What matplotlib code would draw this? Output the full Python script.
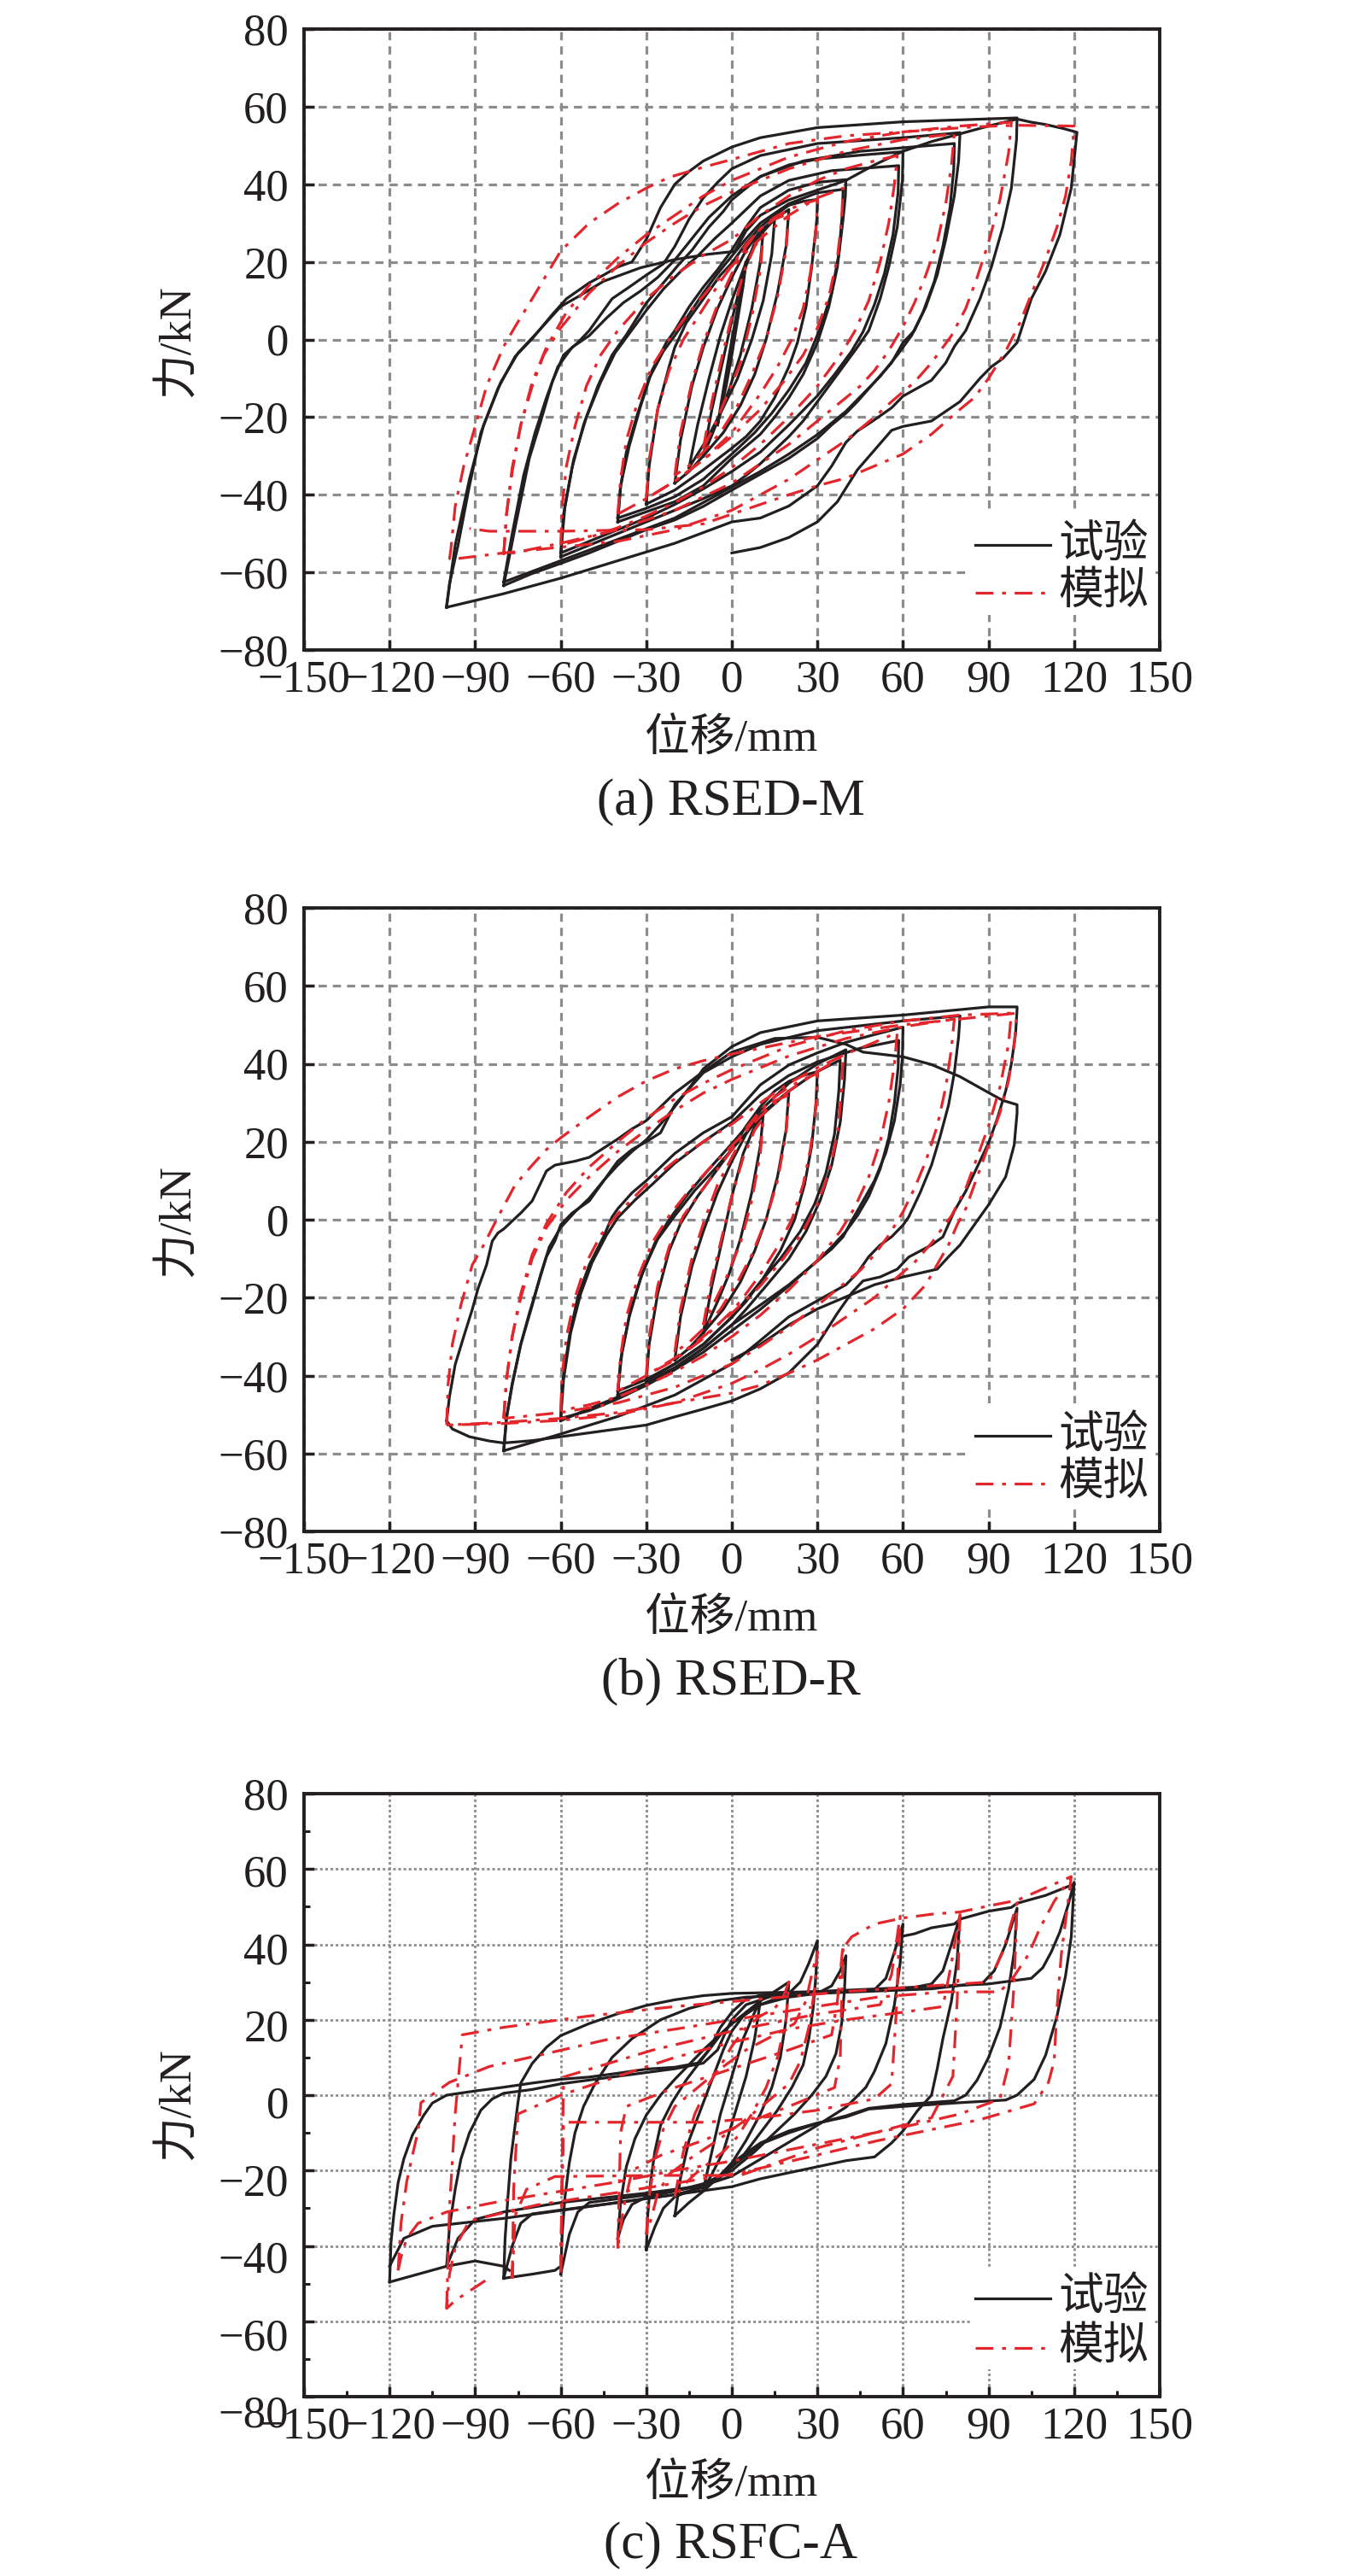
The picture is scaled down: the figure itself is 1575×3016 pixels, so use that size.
import matplotlib
matplotlib.use("Agg")
import matplotlib.pyplot as plt
from matplotlib.ticker import MultipleLocator
from matplotlib.transforms import ScaledTranslation
from matplotlib.patches import Rectangle
from matplotlib.lines import Line2D

plt.rcParams['font.family'] = ['Liberation Serif', 'Noto Sans CJK SC']
plt.rcParams['axes.unicode_minus'] = True

BLACK = '#231f20'
RED = '#e3262c'
GRID = '#8c8c8c'

X_TICKS = list(range(-150, 151, 30))
Y_TICKS = list(range(-80, 81, 20))
XLABEL = '位移/mm'
YLABEL = '力/kN'
CAPTIONS = ['(a) RSED-M', '(b) RSED-R', '(c) RSFC-A']
LEGEND_LABELS = ['试验', '模拟']

# ---------------- Panel (a) RSED-M : test (black) ----------------
A_EXP_L05 = [(-5,-22),(-3,-13),(0,0),(3,12),(5,20),(4,14),(2,5),(0,-4),(-2,-12),(-5,-22)]
A_EXP_L10 = [(-10,-30),(-7,-18),(-3,-5),(0,5),(4,17),(8,25),(11,28),(10,20),(7,8),(3,-4),(-1,-13),(-5,-21),(-10,-30)]
A_EXP_L15 = [(-15,-33),(-12,-22),(-8,-10),(-4,1),(0,10),(5,20),(10,27),(15,31),(14,22),(11,10),(7,0),(2,-10),(-4,-19),(-9,-26),(-15,-33)]
A_EXP_L20 = [(-20,-37),(-18,-26),(-14,-12),(-10,-2),(-5,8),(0,16),(5,23),(10,28),(15,31),(20,33.5),(19,24),(16,12),(12,0),(8,-9),(3,-17),(-3,-24),(-10,-30),(-15,-34),(-20,-37)]
A_EXP_L30 = [(-30,-42.4),(-29,-32.6),(-26,-18),(-22,-7),(-20,-2),(-16,4.3),(-12,8.4),(-8,12.5),(-4,16.6),(0,19.7),(5,24.8),(10,29),(15,32),(20,34.6),(25,35.6),(30,36.1),
             (29.8,31),(28,18.7),(26,8.4),(23,-0.8),(20,-7),(15,-15),(10,-21),(5,-25),(0,-28),(-10,-33.6),(-20,-38.8),(-30,-42.4)]
A_EXP_L40 = [(-40,-47),(-39,-37.7),(-36,-27.5),(-32,-17.2),(-28,-8),(-23,-0.8),(-20,2.3),(-15,8.4),(-10,13.5),(-5,18),(0,23),(5,29),(10,34),(20,38.5),(30,40.5),(40,41.2),
             (39.8,37),(39,31),(37,18.7),(34,8.4),(30,-0.8),(25,-9),(20,-15),(15,-20),(10,-24.4),(5,-27.5),(0,-30.6),(-10,-37.7),(-20,-41.8),(-30,-44.4),(-40,-47)]
A_EXP_L40B = [(-40,-46),(-39,-38),(-37,-29),(-33,-19),(-29,-10),(-24,-3),(-20,1),(-15,6.5),(-10,12),(-5,17),(0,21.5),(5,26),(10,30),(20,35),(30,37.8),(39,38.7),
              (38.8,33),(37.5,22),(35,12),(31,3),(26,-6),(20,-13),(14,-19),(8,-24),(0,-29.5),(-10,-36),(-20,-40.5),(-30,-43.5),(-40,-46)]
A_EXP_L60 = [(-60,-56),(-59,-45),(-56,-33),(-52,-22),(-47,-12),(-42,-4),(-37,1.2),(-30,9.4),(-24,14.6),(-19,19),(-14,23),(-8,29),(-3,33),(0,36),(10,42),(20,45),(30,46.5),(45,47.5),(60,48.4),
             (59.8,41),(58,29),(55,18.7),(52,10.5),(48,2.3),(44,-2),(40,-6),(35,-11),(30,-16),(25,-21),(20,-25),(15,-28.5),(10,-32),(5,-35),(0,-37.7),(-10,-41),(-20,-44),(-30,-47),(-40,-50),(-50,-53),(-60,-56)]
A_EXP_L60B = [(-60,-55),(-58.5,-43),(-55.5,-31),(-51,-20),(-46,-11),(-41,-3.5),(-35,2.5),(-30,7.5),(-24,13),(-18,17.5),(-12,21.5),(-6,26),(0,30),(10,37),(20,41),(35,43.5),(58.5,44.8),
              (58.3,38),(56.5,27),(53.5,17),(50,9),(46,2),(42,-3),(36,-9),(30,-14.5),(20,-22),(10,-29),(0,-34),(-10,-38.5),(-20,-42.5),(-30,-46),(-40,-49),(-50,-52),(-60,-55)]
A_EXP_L80 = [(-80,-63.4),(-76,-48.5),(-71,-30.6),(-67,-21),(-63,-11),(-59,-4),(-54,-0.8),(-50,2.3),(-46,6.4),(-42,10.5),(-36,13.5),(-30,16.6),(-24,19.5),(-20,24),(-15,31),(-10,36.5),(-5,40.5),(0,44),(10,47.4),(30,50.5),(60,52),(80,53.3),
             (79.5,46),(78,37),(75,25.8),(72,16.6),(68,8.4),(64,2.3),(60,-0.8),(56,-6),(50,-11),(44,-16),(40,-19),(35,-22),(30,-25.5),(20,-30.6),(10,-34.7),(0,-38.8),(-10,-43),(-20,-46.5),(-30,-49),(-40,-52),(-50,-55),(-60,-57.7),(-70,-60.3),(-80,-63.4)]
A_EXP_L80B = [(-80,-62.5),(-77,-50),(-73,-35),(-69,-24),(-65,-15),(-61,-7),(-56,-2),(-50,1),(-44,5.5),(-38,9.5),(-32,12.5),(-26,16),(-20,20.5),(-14,26),(-8,31.5),(0,37),(10,42),(25,46),(45,48.5),(78,50.5),
              (77.8,44),(76.5,34),(74,24),(71,15),(67,7),(63,1),(58,-4),(52,-9.5),(46,-14),(40,-18.5),(30,-24.5),(20,-29.5),(10,-34),(0,-38),(-20,-46),(-40,-51.5),(-60,-57),(-80,-62.5)]
A_EXP_L100 = [(-100,-69),(-99,-63),(-96,-53),(-92,-37.7),(-88,-24),(-82,-12.6),(-76,-4.4),(-70,0.2),(-63,6.4),(-58,10.5),(-50,14.6),(-45,16.6),(-40,18.7),(-35,20),(-30,25.8),(-25,34),(-20,40),(-15,43.3),(-10,46),(0,49.6),(10,52),(30,54.6),(60,56.1),(100,57.1),
              (99.8,51.5),(98,39),(95,29),(91,18.7),(87,10.5),(82,2.3),(78,-1.8),(75,-6),(70,-10.5),(60,-14.6),(56,-17.6),(50,-20.7),(44,-23.6),(40,-26.5),(35,-32.6),(30,-37.7),(20,-42.9),(10,-46),(0,-47),(-20,-52.5),(-40,-57),(-60,-61.5),(-80,-65.5),(-100,-69)]
A_EXP_L120 = [(-100,-68.5),(-97,-53),(-92,-36),(-87,-22),(-81,-11),(-75,-3.5),(-68,2),(-60,8.5),(-54,11),(-45,15),(-32,18.5),(-20,20.6),(-8,22),(1,22.7),(5,28),(10,32),(20,36),(30,38.5),(40,41),(50,45),(60,48.5),(70,51),(80,53),(90,55),(100,56.8),(105,56),(110,55.4),(116,54.4),(121,53.4),
              (119,39),(115,27),(110,17.6),(105,10.5),(100,-0.8),(95,-4.9),(91,-7),(87,-10),(80,-16),(70,-21),(60,-22.4),(56,-23.4),(50,-28.5),(44,-33.6),(37,-41.8),(30,-47),(20,-51),(10,-53.6),(0,-55)]

# ---------------- Panel (a) RSED-M : simulation (red) ----------------
A_SIM_L10 = [(-10,-28),(-7,-16),(-3,-3),(0,6),(4,17),(8,24),(11,27),(10,18),(7,6),(3,-6),(-2,-15),(-6,-22),(-10,-28)]
A_SIM_L20 = [(-20,-35),(-18,-24),(-14,-11),(-10,-1),(-5,9),(0,17),(5,24),(10,28.5),(15,31),(20,32.5),(19,23),(16,11),(12,0),(7,-9),(2,-17),(-4,-24),(-10,-29),(-15,-32.5),(-20,-35)]
A_SIM_L30 = [(-30,-41),(-29,-31),(-26,-18),(-22,-8),(-17,0),(-10,8),(-4,15),(0,19),(5,24.5),(10,28.5),(15,31.5),(20,33.5),(25,35),(30,36),
             (29.5,28),(27.5,17),(25,8),(21,0),(16,-7),(10,-14),(4,-20),(0,-24),(-10,-31),(-20,-36.5),(-30,-41)]
A_SIM_L40 = [(-40,-45),(-39,-36),(-37,-26),(-33,-16),(-28,-7),(-22,0),(-15,7),(-8,13),(0,19),(10,26),(20,32),(30,36.5),(39,39),
             (38.5,31),(37,21),(34,11),(30,3),(25,-4),(18,-11),(10,-18),(0,-25),(-10,-31),(-20,-36.5),(-30,-41),(-40,-45)]
A_SIM_L60 = [(-60,-53),(-59.5,-43),(-58,-32.6),(-55,-22.4),(-51,-12),(-46,-4),(-40,2.3),(-30,10.5),(-20,16.6),(-10,21.7),(0,25.8),(10,32),(20,37),(30,41),(40,44),(50,46),(58,47.4),
             (57,40),(55,30),(52,20),(48,10),(43,2),(38,-4),(30,-12),(20,-20),(10,-27),(0,-33),(-10,-38),(-20,-42),(-30,-45.5),(-40,-48.5),(-50,-51),(-60,-53)]
A_SIM_L80 = [(-80,-55.5),(-79,-45),(-77,-33),(-74,-22),(-70,-12),(-66,-4),(-60,3),(-50,12),(-40,19),(-30,25),(-20,30),(-10,34.5),(0,38),(20,44),(40,48.5),(60,51.5),(78,53),
             (77,45),(75,35),(72,25),(68,16.6),(64,9.4),(60,3.3),(55,-2.9),(50,-8),(45,-12),(40,-15),(30,-21),(20,-27),(10,-32),(0,-37),(-20,-44),(-40,-49),(-60,-52.5),(-80,-55.5)]
A_SIM_L100 = [(-80,-55.5),(-79,-45),(-77,-34),(-74,-22),(-70,-11),(-65,-2),(-58,7),(-50,14),(-40,21),(-30,27),(-20,32),(-10,37),(0,41),(20,47),(40,51),(60,53.5),(80,55),(98,56),
              (97,48),(94,36),(90,25),(86,16),(82,8),(77,1),(70,-6),(64,-11),(56,-16),(50,-20),(40,-26),(30,-31),(20,-36),(10,-40),(0,-44),(-20,-49),(-40,-52),(-60,-53.5),(-80,-55),(-99,-56.7)]
A_SIM_L120 = [(-99,-56.7),(-98.5,-54),(-97,-43),(-94,-32.6),(-90,-22.4),(-86,-12),(-80,-1.8),(-76,3.3),(-70,10.5),(-60,22.8),(-50,30),(-40,35),(-30,39),(-22,41.8),(-10,44.4),(0,46.4),(20,50.5),(40,52.5),(60,53.5),(85,54.8),(100,55.2),(120,55),
              (119,46),(117,37),(114,29),(110,20.7),(106,13.5),(101,4.3),(96,-3),(90,-10),(85,-15),(80,-18),(70,-24.4),(60,-29.5),(50,-32.6),(40,-35.7),(30,-37.7),(20,-40),(10,-42.5),(0,-45),(-10,-47.5),(-30,-49),(-60,-49.4),(-85,-49.4),(-92,-48.7)]

# ---------------- Panel (b) RSED-R : test (black) ----------------
B_EXP_L10 = [(-10,-29),(-7,-17),(-3,-4),(0,6),(4,17),(8,24),(11,27),(10,19),(7,7),(3,-5),(-1,-14),(-5,-21),(-10,-29)]
B_EXP_L20 = [(-20,-36),(-18,-25),(-14,-12),(-10,-3),(-5,7),(0,15),(5,22),(10,27),(15,30),(20,33),(19,23),(16,11),(12,0),(8,-8),(3,-16),(-3,-23),(-10,-29),(-15,-33),(-20,-36)]
B_EXP_L30 = [(-30,-41.5),(-29,-32),(-26,-19),(-22,-8),(-18,-1),(-12,6),(-6,12),(0,18),(5,24),(10,29),(15,33),(20,35.5),(25,37),(30,38),
             (29.5,30),(28,19),(25.5,9),(22,0),(17,-8),(11,-15),(5,-21),(0,-25),(-10,-32),(-20,-37),(-30,-41.5)]
B_EXP_L40 = [(-40,-45),(-39,-36),(-36,-25),(-32,-15),(-27,-6),(-22,0),(-15,7),(-8,13),(0,19.5),(10,28),(20,35),(30,40),(40,43.6),
             (39.5,36),(38,25),(35,14),(31,5),(26,-3),(20,-10),(12,-17),(5,-23),(0,-27),(-10,-33),(-20,-38),(-30,-42),(-40,-45)]
B_EXP_L40B = [(-40,-44),(-38.5,-34),(-35.5,-23),(-31,-13),(-26,-5),(-20,1),(-13,7.5),(-6,13),(0,18),(10,26.5),(20,33),(30,38),(38,41),
              (37.5,33),(36,22),(33,12),(29,4),(24,-3),(17,-10),(10,-16),(0,-25),(-10,-32),(-20,-37),(-30,-41),(-40,-44)]
B_EXP_L60 = [(-60,-51.6),(-59.5,-42.4),(-57,-30),(-54,-19.8),(-50,-11.6),(-45,-4.4),(-42,0.7),(-40,2.8),(-35,6.9),(-30,10),(-20,17),(-10,22.3),(0,26.4),(10,34.6),(20,39.7),(30,42.8),(40,45.5),(50,47.5),(60,49.4),
             (59.8,41.8),(59,34.6),(57,25.4),(54,17.2),(50,10),(46,4.8),(42,-0.3),(39,-4.4),(35,-7.5),(30,-10.6),(20,-16.7),(10,-21.9),(0,-27),(-10,-33),(-20,-38),(-30,-42),(-40,-45.5),(-50,-48.5),(-60,-51.6)]
B_EXP_L60B = [(-60,-51),(-59,-41),(-56.5,-29),(-53,-19),(-49,-11),(-44,-4),(-40,0.5),(-34,5),(-28,9),(-20,14.5),(-10,20),(0,25),(10,32),(20,37),(30,40.5),(45,44),(58.5,46),
              (58.3,39),(57,30),(55,21),(52,13),(48,6),(44,1),(40,-3),(35,-7),(30,-10.5),(20,-17),(10,-23),(0,-28.5),(-10,-34),(-20,-38.5),(-30,-42.5),(-40,-46),(-50,-49),(-60,-51)]
B_EXP_L80 = [(-80,-59.3),(-79,-50.6),(-77,-42.4),(-74,-32),(-71,-24),(-68,-16.7),(-65,-9.5),(-62,-5.4),(-60,-1.3),(-56,1.7),(-50,4.8),(-45,9.9),(-42,13),(-40,15),(-35,18),(-30,20),(-25,22.3),(-20,29.5),(-10,37.7),(0,41.8),(10,45),(30,48.5),(60,51),(80,52.3),
             (79.5,46.9),(78,37.7),(76,29.5),(73,21.3),(70,14),(66,6.9),(62,0.7),(60,-1.4),(56,-4.4),(52,-6.5),(48,-9.5),(44,-13.7),(40,-16.7),(30,-20.8),(20,-24.9),(10,-31),(0,-37),(-20,-45),(-40,-50.5),(-60,-55),(-80,-59.3)]
B_EXP_L100 = [(-80,-59.3),(-79,-51),(-77,-42),(-74,-32),(-70,-22),(-67,-14),(-64,-7),(-60,-2),(-55,2),(-50,5.5),(-45,10),(-40,14),(-35,17.5),(-30,20.5),(-25,24.5),(-20,29),(-12,36.6),(-10,38.7),(0,44.4),(10,48),(30,51),(60,52.5),(90,54.6),(100,54.6),
              (100,54),(99.5,48),(98,40),(96,33),(93,25.8),(90,19.7),(86,13.5),(82,7.3),(78,2.2),(74,-4.4),(70,-6.5),(62,-9.6),(58,-12.7),(52,-14.7),(46,-15.7),(42,-18.8),(37,-24),(30,-32),(20,-39.3),(10,-43.4),(0,-46.5),(-10,-48.6),(-20,-50.6),(-30,-52.7),(-50,-54.7),(-60,-55.7),(-70,-56.7),(-80,-57.3),(-85,-56.8),(-92,-55.7),(-98,-53.7),(-100,-51.6)]
B_EXP_L100B = [(-100,-51.6),(-99,-45.4),(-97,-37.2),(-94,-30),(-91,-23),(-89,-17.7),(-86,-11.6),(-84,-5.5),(-82,-3.4),(-80,-2.4),(-74,1.7),(-70,4.8),(-65,12.5),(-62,14),(-55,15),(-50,16),(-40,20.7),(-35,23.3),(-30,25.4),(-20,32.5),(-10,38),(0,43),(15,46.5),(30,46.8),(40,45),(46,43),(60,41.8),(70,39.8),(80,36.7),(90,32.6),(95,30.6),(100,29.5),
               (100,27.4),(99,19.2),(96,11),(90,3.8),(86,-0.3),(80,-6.5),(76,-9.5),(72,-12.7),(60,-14.7),(50,-16.7),(40,-19.8),(30,-22.9),(20,-27),(10,-32),(0,-36)]

# ---------------- Panel (b) RSED-R : simulation (red) ----------------
B_SIM_L10 = [(-10,-27),(-7,-15),(-3,-3),(0,6),(4,16),(8,23),(11,26),(10,17),(7,5),(3,-6),(-2,-15),(-6,-21),(-10,-27)]
B_SIM_L20 = [(-20,-34),(-18,-23),(-14,-10),(-10,-1),(-5,9),(0,16),(5,23),(10,27.5),(15,30.5),(20,32),(19,22),(16,10),(12,0),(7,-9),(2,-16),(-4,-23),(-10,-28),(-15,-31.5),(-20,-34)]
B_SIM_L30 = [(-30,-40),(-29,-30),(-26,-17),(-22,-7),(-17,1),(-10,8),(-4,14),(0,18),(5,23.5),(10,28),(15,31.5),(20,34),(25,36),(30,37.5),
             (29.5,29),(27.5,18),(25,9),(21,0),(16,-7),(10,-14),(4,-20),(0,-23.5),(-10,-30.5),(-20,-36),(-30,-40)]
B_SIM_L40 = [(-40,-44),(-39,-35),(-37,-25),(-33,-15),(-28,-6),(-22,1),(-15,7.5),(-8,13),(0,19),(10,26.5),(20,33),(30,38),(39,42),
             (38.5,33),(37,22),(34,12),(30,4),(25,-3),(18,-10),(10,-17),(0,-24),(-10,-30),(-20,-35.5),(-30,-40),(-40,-44)]
B_SIM_L60 = [(-60,-49),(-59.5,-40),(-58,-30),(-55,-20),(-51,-11),(-46,-4),(-40,1.5),(-30,9),(-20,15),(-10,20),(0,24.5),(10,30),(20,35),(30,39),(40,42.5),(50,45.5),(58,48),
             (57,40),(55,30),(52,20),(48,11),(43,3),(38,-3),(30,-10.5),(20,-18),(10,-24.5),(0,-30),(-10,-35),(-20,-39),(-30,-42.5),(-40,-45.5),(-50,-47.5),(-60,-49)]
B_SIM_L80 = [(-80,-51),(-79,-41),(-77,-30),(-74,-20),(-70,-10),(-65,-2),(-58,5),(-50,11),(-40,17.5),(-30,23),(-20,28),(-10,32.5),(0,36),(20,42),(40,46.5),(60,49.5),(78,51.5),
             (77,44),(75,34),(72,24),(68,15),(64,8),(60,2),(55,-4),(50,-9),(45,-13),(40,-16),(30,-22),(20,-27.5),(10,-32.5),(0,-37),(-20,-43),(-40,-47),(-60,-49.5),(-80,-51)]
B_SIM_L100 = [(-80,-51),(-79,-41),(-77,-30),(-74,-19),(-70,-9),(-65,-1),(-58,7),(-50,13.5),(-40,20),(-30,26),(-20,31),(-10,35),(0,38.5),(20,44.5),(40,48.5),(60,51),(80,52.5),(98,53),
              (97,45),(94,34),(90,24),(86,16),(82,8),(77,1),(70,-6),(64,-11),(56,-16),(50,-20),(40,-25),(30,-30),(20,-34.5),(10,-38.5),(0,-42),(-20,-47),(-40,-50),(-60,-51.5),(-80,-52.3),(-100,-52.7)]
B_SIM_L100B = [(-100,-52.7),(-99.5,-42.4),(-98,-32),(-95,-21.9),(-91,-11.6),(-87,-6.5),(-82,0.7),(-76,8.9),(-70,14),(-65,18),(-60,21),(-50,26.4),(-40,31.5),(-30,35.6),(-20,38.7),(-10,40.8),(0,42.5),(30,47),(60,50),(80,51.5),(100,53),
               (99,45),(97,35.6),(94,27.4),(91,21.3),(88,15),(85,8.9),(82,2.8),(79,-1.3),(76,-6.4),(72,-11.5),(68,-16.7),(60,-22.9),(50,-28),(40,-32),(30,-36),(20,-39.4),(10,-42.5),(0,-44.5),(-20,-47),(-40,-49.5),(-60,-51),(-80,-52),(-100,-52.7)]

# ---------------- Panel (c) RSFC-A : test (black) ----------------
C_EXP_L10 = [(-10,-25),(-7,-15),(-4,-5),(0,5),(4,15),(8,22),(10,25),(8,15),(5,5),(1,-5),(-3,-15),(-7,-21),(-10,-25)]
C_EXP_L20 = [(-20,-32),(-18,-22),(-15,-12),(-11,-4),(-7,4),(-3,12),(0,17),(5,22),(10,25),(15,27.5),(20,30),(19,20),(17,10),(14,2),(10,-5),(5,-12),(0,-18),(-5,-22),(-10,-25.5),(-15,-28.5),(-20,-32)]
C_EXP_L30 = [(-30,-41),(-29.5,-32),(-28.5,-23),(-27,-15),(-25,-8),(-21,-2),(-16,4),(-10,10),(-4,16),(0,19),(5,22),(10,24),(15,25.5),(20,27),(24,30),(27,35),(30,41),
             (29.5,32),(28.5,23),(27,15),(25,8),(21,2),(16,-4),(10,-10),(4,-16),(0,-19),(-5,-22),(-10,-24),(-15,-25.5),(-20,-27),(-24,-30),(-27,-35),(-30,-41)]
C_EXP_L40 = [(-40,-38),(-39,-28.5),(-37,-19),(-34,-11.6),(-30,-5.3),(-25,0),(-20,4.2),(-10,12),(0,19),(10,24),(20,26),(30,27),(35,29),(38,33),(40,37),
             (39.5,28),(38.5,19),(36.5,11),(33,5),(28,0),(22,-5),(15,-10),(8,-15),(0,-20),(-10,-23.5),(-20,-25.5),(-30,-27),(-35,-29),(-38,-33),(-40,-38)]
C_EXP_L60 = [(-60,-47.5),(-59.5,-37),(-58.5,-27),(-57,-18),(-55,-10),(-52,-3),(-48,3),(-42,10),(-35,15),(-25,20),(-15,23),(-5,25),(5,26),(20,26.5),(40,27.5),(50,28),(54,31),(57,38),(60,45.4),
             (59,35),(57,24),(54,13.7),(50,6.3),(47,2.1),(43,-1),(40,-3.2),(30,-8),(20,-12.5),(10,-17),(0,-21.5),(-10,-24),(-25,-26),(-40,-27.5),(-50,-28.5),(-54,-31),(-57,-37),(-60,-47.5)]
C_EXP_L80 = [(-80,-48.6),(-79.5,-38),(-78.5,-27),(-77.5,-17),(-76,-8),(-75,-2),(-74,3.2),(-70,8.4),(-65,12.7),(-60,15.8),(-50,19),(-40,21.6),(-30,23.8),(-20,25.3),(-10,26.4),(0,27),(20,27.3),(60,28),(70,29.5),(74,33),(77,40),(80,47.5),
             (79,36),(77,25),(74,15),(72,7),(70,0),(65,-4.2),(60,-9.5),(56,-12.7),(50,-16.4),(40,-17.4),(30,-19),(20,-20.6),(10,-22.2),(0,-24.3),(-20,-26.4),(-40,-28.5),(-60,-30.5),(-70,-31.5),(-74,-34),(-77,-40),(-80,-48.6)]
C_EXP_L100 = [(-100,-45.4),(-99,-35),(-97,-25),(-95,-17),(-92,-10),(-88,-4),(-84,-1),(-80,0.5),(-70,1.5),(-60,3),(-40,5),(-20,7),(-10,8.5),(-5,12),(-2,17),(0,20),(5,24),(15,26.5),(40,27.3),(70,28.2),(88,29.8),(92,33),(96,40),(100,49.6),
              (99,38),(97,28),(94,18),(90,10),(86,4),(82,0),(78,-1.5),(60,-2.5),(48,-3.5),(40,-5.5),(30,-7.5),(20,-10),(10,-13),(5,-16),(0,-19),(-5,-22.5),(-10,-24),(-30,-26),(-60,-28.5),(-80,-31),(-90,-33),(-96,-38),(-100,-45.4),(-110,-47.5),(-120,-49.6)]
C_EXP_L120 = [(-120,-49.6),(-119.5,-39),(-118.5,-31.7),(-117,-23.2),(-115,-16.9),(-112,-10.6),(-108,-5.3),(-105,-2.1),(-100,0),(-90,1.1),(-80,2.1),(-70,3.2),(-60,4.2),(-50,4.8),(-40,5.8),(-30,6.9),(-20,7.4),(-12,8.5),(-8,12),(-4,18),(0,22),(5,25.5),(10,26.5),(30,27.5),(60,28.5),(90,29.5),(105,31),(109,33.8),(112,38),(115,43.3),(118,50.7),(120,56.5),
              (119,42),(117,31.7),(114,21),(110,10.6),(106,4.2),(100,0),(96,-1.3),(80,-2),(60,-3),(48,-3.7),(40,-5.8),(30,-7.4),(20,-9.5),(10,-12.7),(0,-18),(-5,-22),(-10,-24.5),(-20,-26.4),(-40,-28.5),(-60,-30.6),(-80,-32.7),(-105,-34.8),(-115,-38),(-120,-45.4)]
C_EXP_ENV_POS = [(60,42.2),(64,42.8),(70,44.4),(78,45.4),(80,46.7),(90,48.8),(98,49.8),(100,50.9),(110,53),(120,56)]
C_EXP_ENV_NEG1 = [(-60,-45.4),(-62,-46.5),(-70,-47.5),(-80,-48.6)]
C_EXP_ENV_NEG2 = [(-78,-46.5),(-80,-45.4),(-90,-44),(-100,-45.4)]

# ---------------- Panel (c) RSFC-A : simulation (red) ----------------
C_SIM_L20 = [(-20,-27),(-17,-15),(-13,-5),(-8,3),(-3,9),(0,13),(5,18),(10,21),(15,23),(18,26),(20,30),(19,20),(16,10),(12,2),(7,-5),(2,-11),(-3,-15),(-8,-18),(-13,-21),(-17,-24),(-20,-27)]
C_SIM_L30 = [(-30,-37),(-29,-27),(-27,-17),(-24,-9),(-20,-3),(-12,2),(-4,7),(5,12),(15,16),(22,19),(26,25),(28,32),(30,38),
             (29,28),(27,18),(24,9),(20,3),(12,-2),(4,-7),(-5,-12),(-15,-17),(-22,-21),(-26,-26),(-28,-32),(-30,-37)]
C_SIM_L40 = [(-40,-40.7),(-39,-10),(-37,-3),(-20,2),(0,7),(20,12),(35,16),(37,25),(39,40),
             (38,10),(36,2),(20,-3),(3,-8),(-10,-12),(-25,-16),(-35,-20),(-38,-30),(-40,-40.7)]
C_SIM_L60 = [(-60,-47),(-59.5,-20),(-59,4.8),(-28,11.9),(3,17.5),(30,21.5),(52,24),(56,32),(59,47.5),
             (57.5,20),(56,3),(50,-1),(30,-4),(10,-6),(-9,-7.2),(-59,-7.2),(-59.5,-25),(-60,-47)]
C_SIM_L80 = [(-77,-48.6),(-76.5,-25),(-75,-5),(-60,0),(-40,5),(-20,10),(0,14),(20,17.5),(40,20),(60,22),(74,23.5),(77,35),(80,48.6),
             (79,25),(77.5,5),(70,-6),(50,-10),(30,-14),(3,-21.3),(-25,-21.3),(-62,-21.6),(-72,-25),(-76,-32),(-77,-48.6)]
C_SIM_L100 = [(-100,-56.6),(-99,-30),(-97,-5),(-94.5,16),(-80,18),(-50,21),(-20,23.5),(10,25.5),(40,27.5),(70,29),(90,30),(95,38),(100,51),
              (99,30),(97,8),(94,-1),(80,-5),(60,-8.5),(40,-11.5),(20,-14.5),(0,-17.5),(-20,-20),(-40,-23),(-60,-25.5),(-80,-28),(-100,-31),(-110,-34),(-114,-38),(-116,-43),(-117,-46.5)]
C_SIM_L120 = [(-117,-46.5),(-116,-34),(-114,-23),(-112,-16),(-110,-9.5),(-109,-2),(-99,3.4),(-85,7.6),(-68,10.5),(-44,14.7),(-20,17.5),(3,20.3),(27,23.2),(51,26),(75,27.4),(94,27.4),(99,31.6),(104,37.3),(108,44.3),(113,51.4),(119,58),
              (115.5,37.3),(114,23.2),(113,9),(111,3.4),(106,-2.3),(87,-6.5),(51,-12.1),(27,-16.4),(3,-20.6),(-20,-23.4),(-44,-26.3),(-68,-29.1),(-92,-33.3),(-97,-40.4),(-99,-47.5),(-100,-56.6),(-97,-54.5),(-90,-51),(-85,-48.5)]
C_SIM_ENV = [(40,40),(42,42),(50,45.4),(60,47),(70,48),(80,48.6),(90,50.2),(100,51.7),(110,55),(119,58)]

PANELS = [
    dict(exp=[A_EXP_L05, A_EXP_L10, A_EXP_L15, A_EXP_L20, A_EXP_L30, A_EXP_L40, A_EXP_L40B, A_EXP_L60, A_EXP_L60B, A_EXP_L80, A_EXP_L80B, A_EXP_L100, A_EXP_L120],
         sim=[A_SIM_L10, A_SIM_L20, A_SIM_L30, A_SIM_L40, A_SIM_L60, A_SIM_L80, A_SIM_L100, A_SIM_L120],
         box=(34, 761), grid='dash', leg=(0.169, 0.092), ylab_y=399, xlab_y=865, cap_y=939),
    dict(exp=[B_EXP_L10, B_EXP_L20, B_EXP_L30, B_EXP_L40, B_EXP_L40B, B_EXP_L60, B_EXP_L60B, B_EXP_L80, B_EXP_L100, B_EXP_L100B],
         sim=[B_SIM_L10, B_SIM_L20, B_SIM_L30, B_SIM_L40, B_SIM_L60, B_SIM_L80, B_SIM_L100, B_SIM_L100B],
         box=(1063, 1793), grid='dash', leg=(0.153, 0.077), ylab_y=1429, xlab_y=1895, cap_y=1969),
    dict(exp=[C_EXP_L10, C_EXP_L20, C_EXP_L30, C_EXP_L40, C_EXP_L60, C_EXP_L80, C_EXP_L100, C_EXP_L120, C_EXP_ENV_POS, C_EXP_ENV_NEG1, C_EXP_ENV_NEG2],
         sim=[C_SIM_L20, C_SIM_L30, C_SIM_L40, C_SIM_L60, C_SIM_L80, C_SIM_L100, C_SIM_L120, C_SIM_ENV],
         box=(2100, 2806), grid='dot', leg=(0.163, 0.081), ylab_y=2463, xlab_y=2908, cap_y=2980),
]

W, H = 1575, 3016
fig = plt.figure(figsize=(W / 100, H / 100), dpi=100)
fig.patch.set_facecolor('white')

L, R = 356, 1358
RED_DASH = (0, (6.5, 3.2, 1.4, 3.2))

for i, P in enumerate(PANELS):
    top, bot = P['box']
    ax = fig.add_axes([L / W, 1 - bot / H, (R - L) / W, (bot - top) / H])
    ax.set_xlim(-150, 150)
    ax.set_ylim(-80, 80)
    ax.set_xticks(X_TICKS)
    ax.set_yticks(Y_TICKS)
    ax.set_axisbelow(True)
    if P['grid'] == 'dash':
        ax.grid(True, color=GRID, lw=2.3, linestyle=(0, (3.0, 2.2)))
    else:
        ax.grid(True, color=GRID, lw=2.0, linestyle=(0, (1.1, 1.1)))
        ax.xaxis.set_minor_locator(MultipleLocator(15))
        ax.yaxis.set_minor_locator(MultipleLocator(10))
        ax.tick_params(which='minor', direction='in', length=5, width=2.2, color=BLACK,
                       top=False, right=False)
    for s in ax.spines.values():
        s.set_linewidth(2.8)
        s.set_color(BLACK)
    ax.tick_params(which='major', direction='in', length=8.6, width=2.5, color=BLACK,
                   labelsize=38, top=False, right=False, labelcolor=BLACK)
    ax.tick_params(axis='x', pad=8)
    ax.tick_params(axis='y', pad=13)

    for loop in P['exp']:
        xs, ys = zip(*loop)
        ax.plot(xs, ys, color=BLACK, lw=2.3, solid_joinstyle='round', zorder=2)
    for loop in P['sim']:
        xs, ys = zip(*loop)
        ax.plot(xs, ys, color=RED, lw=2.3, linestyle=RED_DASH, zorder=3)

    if P['grid'] == 'dot':
        for lab, v in zip(ax.get_yticklabels(), Y_TICKS):
            dy = (80 - v) / 160 * 17 * 0.72
            lab.set_transform(lab.get_transform() + ScaledTranslation(0, -dy / 72, fig.dpi_scale_trans))

    # legend (manual, white box over the grid)
    yb, yr = P['leg']
    ax.add_patch(Rectangle((0.779, yr - 0.036), 0.214, (yb - yr) + 0.088, transform=ax.transAxes,
                           facecolor='white', edgecolor='none', zorder=5))
    ax.add_line(Line2D([0.784, 0.872], [yb, yb], transform=ax.transAxes, color=BLACK, lw=2.3, zorder=6))
    ax.add_line(Line2D([0.784, 0.872], [yr, yr], transform=ax.transAxes, color=RED, lw=2.3,
                       linestyle=RED_DASH, zorder=6))
    ax.text(0.882, yb, LEGEND_LABELS[0], transform=ax.transAxes, fontsize=38, va='center', ha='left', zorder=7, color=BLACK)
    ax.text(0.882, yr, LEGEND_LABELS[1], transform=ax.transAxes, fontsize=38, va='center', ha='left', zorder=7, color=BLACK)

    fig.text(207 / W, 1 - P['ylab_y'] / H, YLABEL, rotation=90, ha='center', va='center', fontsize=38, color=BLACK)
    fig.text(856 / W, 1 - P['xlab_y'] / H, XLABEL, ha='center', va='center', fontsize=38, color=BLACK)
    fig.text(856 / W, 1 - P['cap_y'] / H, CAPTIONS[i], ha='center', va='center', fontsize=44, color=BLACK)

fig.savefig('out.png', dpi=100, facecolor='white')
